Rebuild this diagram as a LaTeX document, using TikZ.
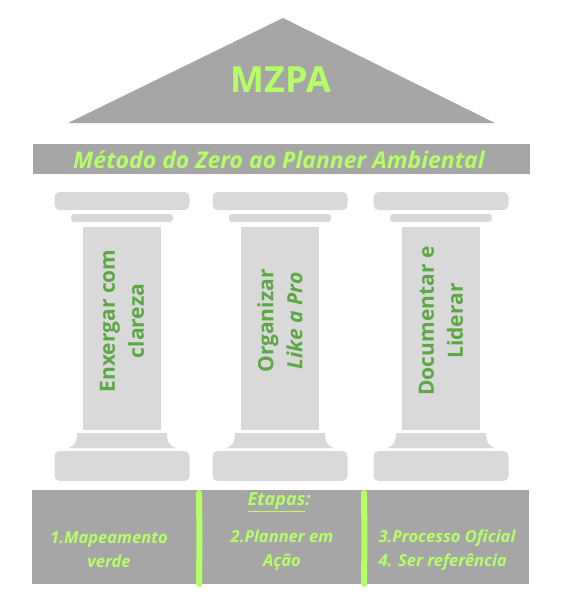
\documentclass[tikz,border=0pt]{standalone}
\usepackage{fontspec}
\setmainfont{Open Sans}
\usetikzlibrary{positioning}
\definecolor{roofgray}{HTML}{A6A6A6}
\definecolor{pillargray}{HTML}{D9D9D9}
\definecolor{limegreen}{HTML}{B5FF66}
\definecolor{leafgreen}{HTML}{5CA845}

\begin{document}
\begin{tikzpicture}[x=1pt, y=-1pt,
    stone/.style={fill=pillargray},
    greybar/.style={fill=roofgray, inner sep=0pt},
    title/.style={text=limegreen, font=\bfseries\fontsize{36}{40}\selectfont},
    bannertext/.style={text=limegreen, font=\bfseries\itshape\fontsize{23}{26}\selectfont},
    pillartext/.style={text=leafgreen, rotate=90, align=center,
                       font=\bfseries\fontsize{21}{29}\selectfont},
    steptext/.style={text=limegreen, align=center,
                     font=\bfseries\itshape\fontsize{16.5}{24}\selectfont},
    brush/.style={draw=limegreen, line width=6pt, line cap=round}
  ]
  \useasboundingbox (0,0) rectangle (560,602);

  % Roof
  \fill[roofgray] (68,123) -- (283,18) -- (495,123) -- cycle;
  \node[title] (mzpa) at (281,80) {MZPA};

  % Banner
  \node[greybar, minimum width=497pt, minimum height=30pt] (banner) at (281,159) {};
  \node[bannertext] (method) at (279,160) {Método do Zero ao Planner Ambiental};

  % Pillars
  \foreach \cx/\txt [count=\i] in {122/{Enxergar com\\clareza},
                                    280/{Organizar\\\textit{Like a Pro}},
                                    441/{Documentar e\\Liderar}} {
    \fill[stone, rounded corners=5pt] (\cx-67.5,192) rectangle (\cx+67.5,210);
    \fill[stone, rounded corners=3pt] (\cx-51,214) rectangle (\cx+51,222);
    \fill[stone] (\cx-39,227) rectangle (\cx+39,430);
    \fill[stone] (\cx-45,433) -- (\cx+45,433)
      .. controls (\cx+45,443) and (\cx+49,447) .. (\cx+54,448)
      -- (\cx-54,448)
      .. controls (\cx-49,447) and (\cx-45,443) .. (\cx-45,433) -- cycle;
    \fill[stone, rounded corners=5pt] (\cx-67.5,451) rectangle (\cx+67.5,481);
    \node[pillartext] (p\i) at (\cx,321) {\txt};
  }

  % Steps panel
  \node[greybar, minimum width=497pt, minimum height=94pt] (steps) at (280.5,537) {};
  \draw[brush] (199,493) -- (199.5,538) -- (199,584);
  \draw[brush] (364,493) -- (364.5,538) -- (364,584);

  \node[steptext, font=\bfseries\itshape\fontsize{18}{24}\selectfont] (etapas) at (279,502) {\underline{Etapas}:};
  \node[steptext] (s1) at (109,550) {1.Mapeamento\\verde};
  \node[steptext] (s2) at (282,550) {2.Planner em\\Ação};
  \node[steptext, align=left] (s3) at (447,550) {3.Processo Oficial\\4. Ser referência};
\end{tikzpicture}
\end{document}
